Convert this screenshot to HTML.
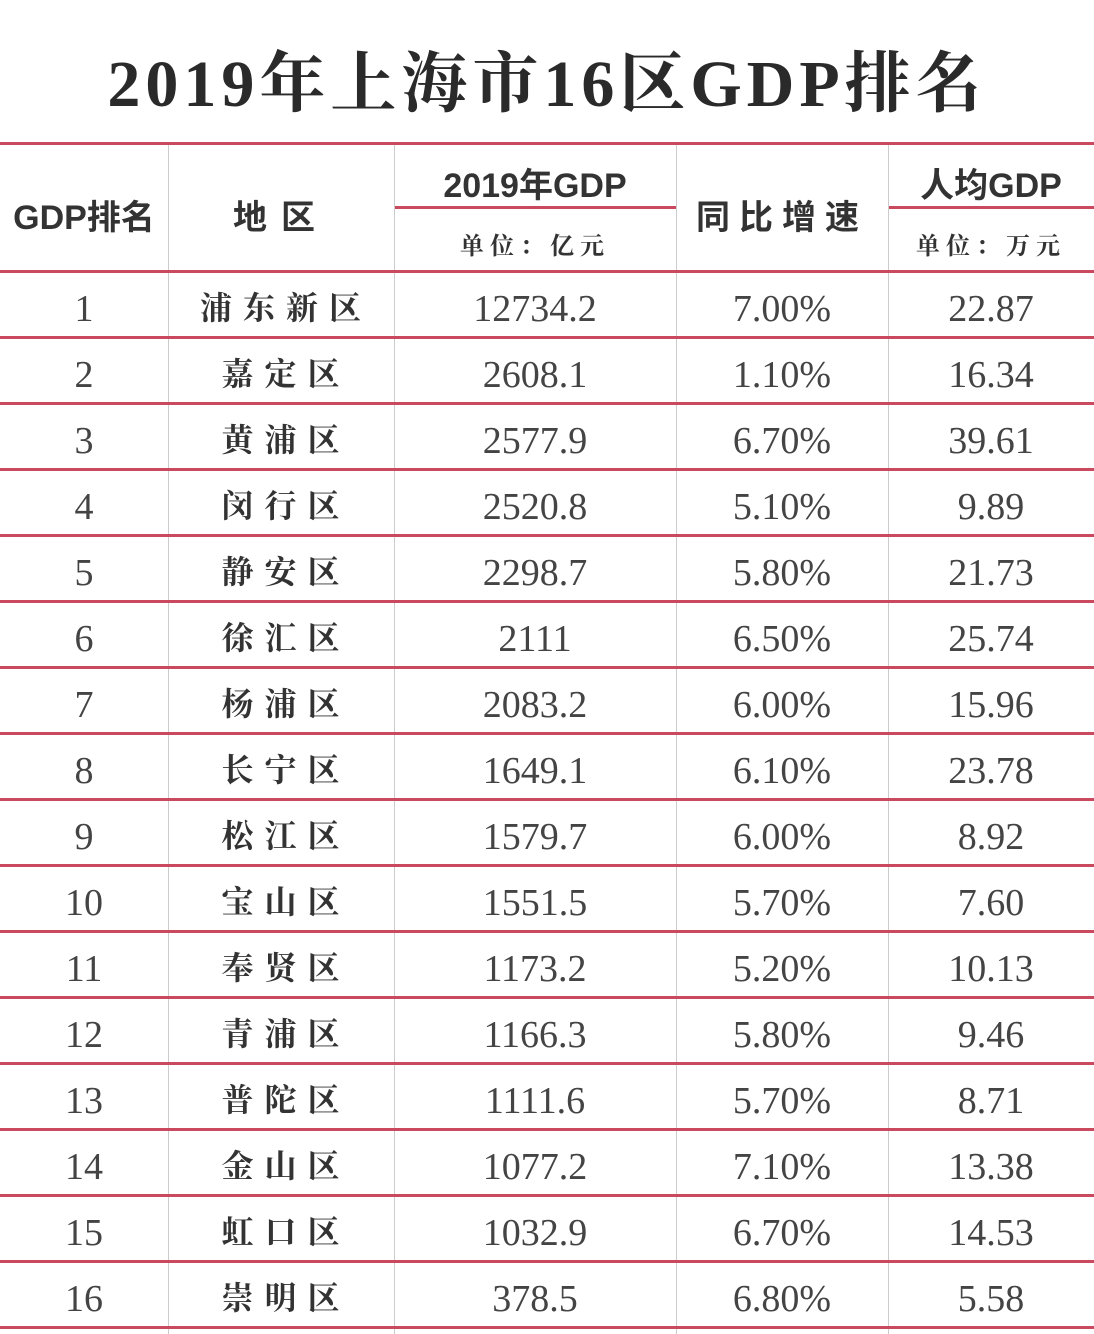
<!DOCTYPE html>
<html><head><meta charset="utf-8"><style>
body{margin:0;width:1094px;height:1334px;background:#fff;position:relative;overflow:hidden;font-family:"Liberation Serif","Noto Serif CJK SC",serif;color:#333}
.t{position:absolute;left:0;width:1094px;top:30px;text-align:center;font-size:66px;font-weight:bold;color:#2a2a2a;letter-spacing:5px;font-family:"Liberation Serif","Noto Serif CJK SC",serif}
.h{position:absolute;left:0;width:1094px;height:3px;background:#c94a5e}
.v{position:absolute;top:145px;width:1px;height:1189px;background:#ccc}
.c{position:absolute;text-align:center;white-space:nowrap}
.n{font-size:38px;color:#444}
.d{font-size:32px;font-weight:bold;letter-spacing:11px;color:#333}
.hd{font-family:"Liberation Sans","Noto Sans CJK SC",sans-serif;font-weight:bold;font-size:34px;color:#333}
.sub{font-family:"Noto Serif CJK SC",serif;font-size:24px;letter-spacing:6px;color:#333;font-weight:bold}
</style></head><body>
<div class="t">2019年上海市16区GDP排名</div>
<div class="h" style="top:142px"></div>
<div class="h" style="top:206px;left:394px;width:282px;"></div>
<div class="h" style="top:206px;left:888px;width:206px;"></div>
<div class="v" style="left:168px"></div>
<div class="v" style="left:394px"></div>
<div class="v" style="left:676px"></div>
<div class="v" style="left:888px"></div>
<div class="c hd" style="left:0;width:168px;top:190px">GDP排名</div>
<div class="c hd" style="left:168px;width:226px;top:190px;letter-spacing:14px">地区</div>
<div class="c hd" style="left:394px;width:282px;top:158px">2019年GDP</div>
<div class="c sub" style="left:394px;width:282px;top:226px">单位：亿元</div>
<div class="c hd" style="left:676px;width:212px;top:190px;letter-spacing:9px">同比增速</div>
<div class="c hd" style="left:888px;width:206px;top:158px">人均GDP</div>
<div class="c sub" style="left:888px;width:206px;top:226px">单位：万元</div>
<div id="rows"></div>
<script>
var d=[["浦东新区","12734.2","7.00%","22.87"],["嘉定区","2608.1","1.10%","16.34"],["黄浦区","2577.9","6.70%","39.61"],["闵行区","2520.8","5.10%","9.89"],["静安区","2298.7","5.80%","21.73"],["徐汇区","2111","6.50%","25.74"],["杨浦区","2083.2","6.00%","15.96"],["长宁区","1649.1","6.10%","23.78"],["松江区","1579.7","6.00%","8.92"],["宝山区","1551.5","5.70%","7.60"],["奉贤区","1173.2","5.20%","10.13"],["青浦区","1166.3","5.80%","9.46"],["普陀区","1111.6","5.70%","8.71"],["金山区","1077.2","7.10%","13.38"],["虹口区","1032.9","6.70%","14.53"],["崇明区","378.5","6.80%","5.58"]];
var h='<div class="h" style="top:270px"></div>';
for(var i=0;i<16;i++){var y=272+i*66;
h+='<div class="h" style="top:'+(y+64)+'px"></div>';
var ty=y+15;
h+='<div class="c n" style="left:0;width:168px;top:'+ty+'px">'+(i+1)+'</div>';
h+='<div class="c d" style="left:178px;width:216px;top:'+(y+11)+'px">'+d[i][0]+'</div>';
h+='<div class="c n" style="left:394px;width:282px;top:'+ty+'px">'+d[i][1]+'</div>';
h+='<div class="c n" style="left:676px;width:212px;top:'+ty+'px">'+d[i][2]+'</div>';
h+='<div class="c n" style="left:888px;width:206px;top:'+ty+'px">'+d[i][3]+'</div>';}
document.getElementById('rows').innerHTML=h;
</script>
</body></html>
